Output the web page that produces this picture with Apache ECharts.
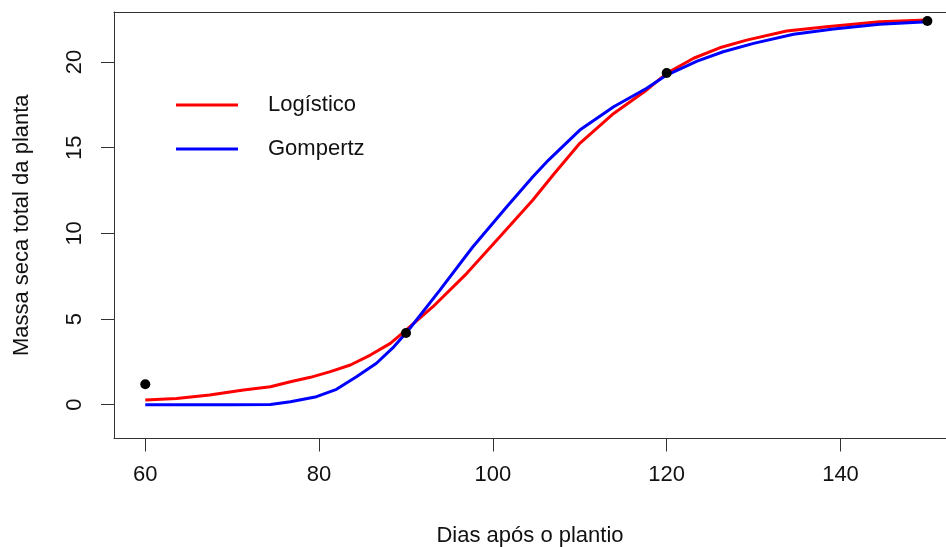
<!DOCTYPE html>
<html>
<head>
<meta charset="utf-8">
<script src="https://cdn.jsdelivr.net/npm/echarts@6/dist/echarts.min.js"></script>
<style>html,body{margin:0;padding:0;background:#fff}#c{width:946px;height:547px}</style>
</head>
<body>
<div id="c"></div>
<script>
// Observed points
const obsX = [60, 90, 120, 150];
const obsY = [1.2, 4.19, 19.36, 22.39];

// Logístico curve
const logX = [60, 63.6, 67.4, 71.3, 74.4, 76.7, 79, 81.3, 83.6, 85.9, 88.2, 90, 93.1, 97, 100.8, 104.6, 107, 110, 113.9, 117.7, 120, 123.1, 126.1, 129.2, 133.8, 138.4, 144.5, 150];
const logY = [0.27, 0.37, 0.57, 0.86, 1.05, 1.34, 1.60, 1.93, 2.32, 2.90, 3.58, 4.35, 5.72, 7.67, 9.8, 11.95, 13.45, 15.26, 17.0, 18.37, 19.34, 20.22, 20.83, 21.28, 21.81, 22.06, 22.35, 22.45];

// Gompertz curve
const gomX = [60, 65, 70, 74.4, 76.7, 79.7, 82, 84.3, 86.6, 88.6, 90.3, 93.9, 97.7, 101.6, 104.6, 106.4, 110, 113.9, 117.7, 120, 123.5, 126.5, 130, 134.6, 139.2, 144.5, 150];
const gomY = [0.0, 0.0, 0.0, 0.02, 0.18, 0.47, 0.9, 1.63, 2.42, 3.38, 4.36, 6.69, 9.22, 11.56, 13.3, 14.28, 16.03, 17.39, 18.47, 19.24, 20.05, 20.6, 21.09, 21.62, 21.93, 22.2, 22.35];

const xTicks = [60, 80, 100, 120, 140];
const yTicks = [0, 5, 10, 15, 20];

const seriesNames = ['Logístico', 'Gompertz'];
const xTitle = 'Dias após o plantio';
const yTitle = 'Massa seca total da planta';

const zip = (a, b) => a.map((v, i) => [v, b[i]]);
const FONT = 'Liberation Sans, Arial, sans-serif';
const TXT = '#111';
const LINE = '#333';

const chart = echarts.init(document.getElementById('c'), null, {renderer: 'canvas'});
chart.setOption({
  animation: false,
  backgroundColor: '#ffffff',
  grid: {left: 114, top: 12, width: 832, height: 426.5, show: false, containLabel: false, outerBoundsMode: 'none'},
  legend: {
    orient: 'vertical', left: 171, top: 88, itemWidth: 62, itemHeight: 3, itemGap: 20,
    icon: 'rect', data: seriesNames,
    textStyle: {fontFamily: FONT, fontSize: 22, color: TXT, lineHeight: 24, padding: [0, 0, 0, 25]}
  },
  xAxis: [{
    type: 'value', min: 56.4, max: 152.14,
    name: xTitle, nameLocation: 'middle', nameGap: 86,
    nameTextStyle: {fontFamily: FONT, fontSize: 22, color: TXT},
    axisLine: {show: true, onZero: false, lineStyle: {color: LINE, width: 1}},
    axisTick: {show: true, length: 13, customValues: xTicks, lineStyle: {color: LINE}},
    axisLabel: {customValues: xTicks, margin: 25, fontFamily: FONT, fontSize: 22, color: TXT},
    splitLine: {show: false}
  }, {
    type: 'value', position: 'top', min: 56.4, max: 152.14,
    axisLine: {show: true, onZero: false, lineStyle: {color: LINE, width: 1}},
    axisTick: {show: false}, axisLabel: {show: false}, splitLine: {show: false}
  }],
  yAxis: {
    type: 'value', min: -1.97, max: 22.92,
    name: yTitle, nameLocation: 'middle', nameGap: 81,
    nameTextStyle: {fontFamily: FONT, fontSize: 22, color: TXT},
    axisLine: {show: true, onZero: false, lineStyle: {color: LINE, width: 1}},
    axisTick: {show: true, length: 13, customValues: yTicks, lineStyle: {color: LINE}},
    axisLabel: {customValues: yTicks, rotate: 90, margin: 28, fontFamily: FONT, fontSize: 22, color: TXT},
    splitLine: {show: false}
  },
  series: [
    {name: seriesNames[0], type: 'line', data: zip(logX, logY), showSymbol: false, smooth: false,
     color: '#ff0000', lineStyle: {width: 3, color: '#ff0000'}, z: 2},
    {name: seriesNames[1], type: 'line', data: zip(gomX, gomY), showSymbol: false, smooth: false,
     color: '#0000ff', lineStyle: {width: 3, color: '#0000ff'}, z: 3},
    {name: 'obs', type: 'scatter', data: zip(obsX, obsY), symbolSize: 10, itemStyle: {color: '#000', opacity: 1}, z: 5}
  ]
});
</script>
</body>
</html>
